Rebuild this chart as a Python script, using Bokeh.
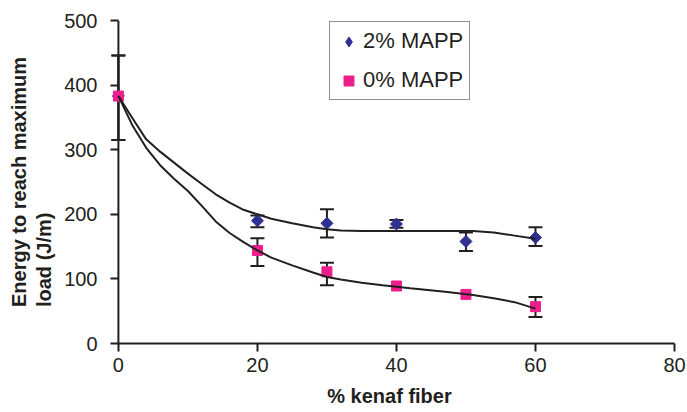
import math
from bokeh.plotting import figure
from bokeh.models import (Range1d, Whisker, TeeHead, ColumnDataSource, Legend,
                          LegendItem, Title, FixedTicker, Span)
from bokeh.embed import file_html
from bokeh.resources import INLINE

# ---- data ----
fiber = [0, 20, 30, 40, 50, 60]
mapp2 = [383, 190, 186, 185, 158, 164]
mapp2_hi = [446, 198, 208, 191, 172, 180]
mapp2_lo = [315, 180, 164, 179, 143, 151]
mapp0 = [383, 144, 111, 89, 76, 57]
mapp0_hi = [446, 163, 125, float("nan"), float("nan"), 72]
mapp0_lo = [315, 120, 90, float("nan"), float("nan"), 41]

trend_x = [0, 2, 4, 6, 8, 10, 12, 14, 16, 18, 20, 22, 25, 28, 30, 32, 35, 38,
           42, 47, 51, 54, 57, 60]
trend2 = [383, 349, 316, 297, 280, 263, 247, 231, 218, 207, 200, 193, 186, 180,
          177, 175, 174, 174, 174, 174, 174, 172, 167, 162]
trend0 = [383, 338, 303, 276, 255, 236, 213, 189, 171, 157, 144, 133, 121, 110,
          103, 99, 94, 90, 85.5, 80, 75, 70, 64, 54]

x_ticks = [0, 20, 40, 60, 80]
y_ticks = [0, 100, 200, 300, 400, 500]
series_names = ["2% MAPP", "0% MAPP"]

INK = "#231f20"
NAVY = "#2e3192"
PINK = "#ec1e8c"
FONT = "Liberation Sans"

p = figure(width=687, height=412, output_backend="svg", toolbar_location=None,
           x_range=Range1d(-2, 80), y_range=Range1d(0, 500),
           min_border_left=104, min_border_right=13, min_border_top=20,
           min_border_bottom=69)
p.outline_line_color = None
p.xgrid.grid_line_color = None
p.ygrid.grid_line_color = None
p.background_fill_color = "white"
p.border_fill_color = "white"

for ax in (p.xaxis[0], p.yaxis[0]):
    ax.axis_line_color = INK
    ax.axis_line_width = 2
    ax.major_tick_line_color = INK
    ax.major_tick_line_width = 2
    ax.major_tick_out = 8
    ax.major_tick_in = 0
    ax.minor_tick_line_color = None
    ax.major_label_text_font = FONT
    ax.major_label_text_font_size = "20px"
    ax.major_label_text_color = INK
    ax.major_label_standoff = 6

p.xaxis.ticker = FixedTicker(ticks=x_ticks)
p.yaxis.ticker = FixedTicker(ticks=y_ticks)
p.xaxis.bounds = (0, 80)
p.yaxis.bounds = (0, 500)

# y axis sits at x = 0 (frame starts slightly left of it so the x=0 marks show)
p.yaxis.axis_line_color = None
p.yaxis.major_tick_out = -6
p.yaxis.major_tick_in = 14
p.yaxis.major_label_standoff = 7
p.add_layout(Span(location=0, dimension="height", line_color=INK,
                  line_width=2, level="underlay"))

p.xaxis.axis_label = "% kenaf fiber"
p.xaxis.axis_label_text_font = FONT
p.xaxis.axis_label_text_font_style = "bold"
p.xaxis.axis_label_text_font_size = "20px"
p.xaxis.axis_label_text_color = INK
p.xaxis.axis_label_standoff = 10

p.add_layout(Title(text="Energy to reach maximum\nload (J/m)", align="center",
                   text_font=FONT, text_font_style="bold", text_font_size="20px",
                   text_color=INK, text_line_height=1.15, standoff=12), "left")

src2 = ColumnDataSource(dict(x=fiber, y=mapp2, lo=mapp2_lo, hi=mapp2_hi))
src0 = ColumnDataSource(dict(x=fiber, y=mapp0, lo=mapp0_lo, hi=mapp0_hi))

for src in (src2, src0):
    w = Whisker(base="x", lower="lo", upper="hi", source=src,
                line_color=INK, line_width=2,
                lower_head=TeeHead(size=14, line_color=INK, line_width=2),
                upper_head=TeeHead(size=14, line_color=INK, line_width=2))
    p.add_layout(w)

p.scatter("x", "y", source=src2, marker="square", angle=math.pi / 4, size=8.5,
          fill_color=NAVY, line_color=NAVY)
p.scatter("x", "y", source=src0, marker="square", size=10,
          fill_color=PINK, line_color=PINK)

p.line(trend_x, trend2, line_color=INK, line_width=2)
p.line(trend_x, trend0, line_color=INK, line_width=2)

# legend proxies (no visible points)
leg2 = p.scatter([float("nan")], [float("nan")], marker="diamond",
                 fill_color=NAVY, line_color=NAVY)
leg0 = p.scatter([float("nan")], [float("nan")], marker="square",
                 fill_color=PINK, line_color=PINK)

legend = Legend(items=[LegendItem(label=series_names[0], renderers=[leg2]),
                       LegendItem(label=series_names[1], renderers=[leg0])],
                location=(225, 243), padding=6, spacing=13, margin=0,
                glyph_width=25, glyph_height=25, label_height=25,
                label_standoff=2, label_text_font=FONT,
                label_text_font_size="22px", label_text_color=INK,
                border_line_color=INK, border_line_width=1.5,
                background_fill_color="white", background_fill_alpha=1)
p.add_layout(legend)

open("out.html", "w").write(file_html(p, INLINE))
